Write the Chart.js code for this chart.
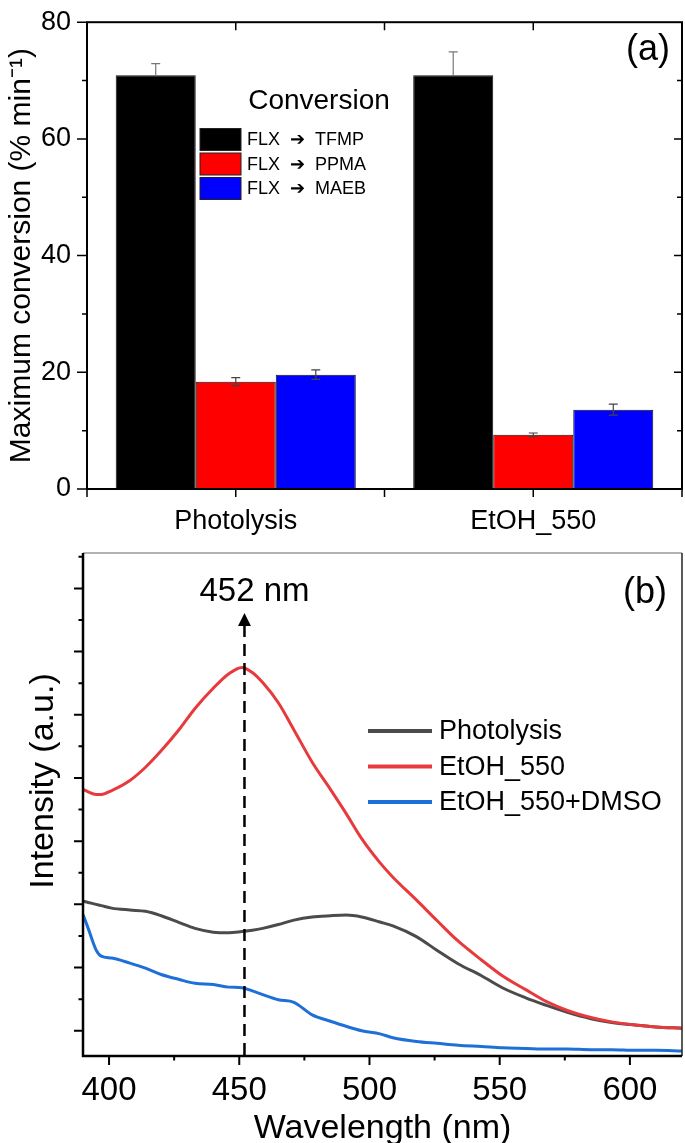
<!DOCTYPE html>
<html>
<head>
<meta charset="utf-8">
<script src="https://cdn.jsdelivr.net/npm/chart.js@4.4.0/dist/chart.umd.min.js"></script>
<style>
  html, body { margin: 0; padding: 0; background: #fff; overflow: hidden; }
  #wrapA { position: absolute; left: 0; top: 0; width: 685px; height: 545px; }
  #wrapB { position: absolute; left: 0; top: 545px; width: 685px; height: 620px; }
</style>
</head>
<body>
<div id="wrapA"><canvas id="chartA"></canvas></div>
<div id="wrapB"><canvas id="chartB"></canvas></div>
<script>
// panel (a) - maximum conversion
var samples = ["Photolysis", "EtOH_550"];
var tfmp = [70.9, 70.9];
var tfmpErr = [2.0, 4.0];
var ppma = [18.4, 9.3];
var ppmaErr = [0.7, 0.3];
var maeb = [19.6, 13.6];
var maebErr = [0.8, 0.95];

// panel (b) - emission spectra (a.u., x1000)
var wavelength = [390, 392, 395, 397, 401, 408, 414, 420, 427, 433, 440, 446, 451, 455, 459, 465, 471, 478,
    485, 491, 497, 504, 509, 518, 526, 534, 543, 551, 560, 568, 576, 585, 593, 602, 610, 620];
var photolysis = [2.05, 2.03, 2.00, 1.98, 1.94, 1.91, 1.89, 1.82, 1.71, 1.62, 1.56, 1.55, 1.57, 1.59, 1.62, 1.68, 1.75, 1.80,
    1.82, 1.83, 1.80, 1.72, 1.66, 1.49, 1.27, 1.06, 0.87, 0.68, 0.52, 0.40, 0.29, 0.19, 0.13, 0.09, 0.06, 0.04];
var etoh550 = [3.82, 3.78, 3.74, 3.74, 3.80, 3.96, 4.17, 4.43, 4.77, 5.10, 5.42, 5.65, 5.75, 5.67, 5.51, 5.19, 4.76, 4.25,
    3.82, 3.44, 3.04, 2.66, 2.43, 2.07, 1.74, 1.42, 1.12, 0.87, 0.65, 0.46, 0.32, 0.21, 0.14, 0.09, 0.06, 0.04];
var etohDmso = [1.84, 1.62, 1.28, 1.18, 1.15, 1.07, 0.99, 0.89, 0.81, 0.75, 0.73, 0.69, 0.68, 0.63, 0.57, 0.49, 0.45, 0.25,
    0.15, 0.07, 0.00, -0.05, -0.11, -0.17, -0.20, -0.23, -0.25, -0.27, -0.28, -0.29, -0.29, -0.30, -0.30, -0.31, -0.31, -0.32];
var wlTicks = [400, 450, 500, 550, 600];
var peakNm = 452;

var FONT = '"Liberation Sans", Arial, sans-serif';
Chart.defaults.font.family = FONT;
Chart.defaults.color = '#000';

function pts(ys) {
    return wavelength.map(function (w, i) { return { x: w, y: ys[i] }; });
}

// error bars on top of the bars
var errorBars = {
    id: 'errorBars',
    afterDatasetsDraw: function (chart) {
        var ctx = chart.ctx, y = chart.scales.y;
        ctx.save();
        ctx.lineWidth = 1.2;
        chart.data.datasets.forEach(function (ds, i) {
            ctx.strokeStyle = i === 0 ? '#777' : '#444';
            chart.getDatasetMeta(i).data.forEach(function (bar, j) {
                var top = y.getPixelForValue(ds.data[j] + ds.errors[j]);
                var bot = y.getPixelForValue(ds.data[j] - ds.errors[j]);
                if (i === 0) bot = y.getPixelForValue(ds.data[j]);
                ctx.beginPath();
                ctx.moveTo(bar.x, top); ctx.lineTo(bar.x, bot);
                ctx.moveTo(bar.x - 4.5, top); ctx.lineTo(bar.x + 4.5, top);
                if (i !== 0) { ctx.moveTo(bar.x - 4.5, bot); ctx.lineTo(bar.x + 4.5, bot); }
                ctx.stroke();
            });
        });
        ctx.restore();
    }
};

var frameA = {
    id: 'frameA',
    afterDraw: function (chart) {
        var ctx = chart.ctx, a = chart.chartArea, y = chart.scales.y, x = chart.scales.x;
        ctx.save();
        ctx.strokeStyle = '#000';
        ctx.lineWidth = 2;
        ctx.strokeRect(a.left, a.top, a.right - a.left, a.bottom - a.top);
        ctx.lineWidth = 1.5;
        ctx.beginPath();
        for (var v = 0; v <= 80; v += 10) {
            var py = y.getPixelForValue(v);
            var major = v % 20 === 0;
            ctx.moveTo(a.left - (major ? 10 : 5), py); ctx.lineTo(a.left, py);
            if (v > 0 && v < 80) {
                ctx.moveTo(a.right, py); ctx.lineTo(a.right - (major ? 8 : 5), py);
            }
        }
        var c0 = x.getPixelForValue(0), c1 = x.getPixelForValue(1);
        [c0, (c0 + c1) / 2, c1].forEach(function (px) {
            ctx.moveTo(px, a.top); ctx.lineTo(px, a.top + 8);
        });
        [a.left, c0, (c0 + c1) / 2, c1, a.right].forEach(function (px) {
            ctx.moveTo(px, a.bottom); ctx.lineTo(px, a.bottom + 8);
        });
        ctx.stroke();

        // legend
        ctx.fillStyle = '#000';
        ctx.font = '28px ' + FONT;
        ctx.textAlign = 'center';
        ctx.textBaseline = 'middle';
        ctx.fillText('Conversion', 319, 101);
        ctx.font = '18px ' + FONT;
        ctx.textAlign = 'left';
        chart.data.datasets.forEach(function (ds, i) {
            var top = 128.5 + i * 24.5;
            ctx.fillStyle = ds.backgroundColor;
            ctx.fillRect(200, top, 41, 22);
            ctx.strokeStyle = '#222';
            ctx.lineWidth = 1;
            ctx.strokeRect(200, top, 41, 22);
            ctx.fillStyle = '#000';
            ctx.fillText(ds.label, 247, top + 12);
        });

        ctx.font = '36px ' + FONT;
        ctx.textAlign = 'center';
        ctx.fillText('(a)', 648, 50);
        ctx.restore();
    }
};

new Chart(document.getElementById('chartA'), {
    type: 'bar',
    data: {
        labels: samples,
        datasets: [
            { label: 'FLX  \u2794  TFMP', data: tfmp, errors: tfmpErr, backgroundColor: '#000000', borderColor: '#111', borderWidth: 1 },
            { label: 'FLX  \u2794  PPMA', data: ppma, errors: ppmaErr, backgroundColor: '#ff0000', borderColor: '#111', borderWidth: 1 },
            { label: 'FLX  \u2794  MAEB', data: maeb, errors: maebErr, backgroundColor: '#0000ff', borderColor: '#111', borderWidth: 1 }
        ]
    },
    options: {
        responsive: true,
        maintainAspectRatio: false,
        animation: false,
        layout: { padding: { top: 14, right: 3, left: 0, bottom: 0 } },
        plugins: { legend: { display: false }, tooltip: { enabled: false } },
        datasets: { bar: { categoryPercentage: 0.807, barPercentage: 1.0 } },
        scales: {
            x: {
                grid: { display: false, tickLength: 8 },
                border: { display: false },
                ticks: { font: { size: 27 }, color: '#000', padding: 8, maxRotation: 0 },
                afterFit: function (s) { s.height = 56; }
            },
            y: {
                min: 0,
                max: 80,
                grid: { display: false, tickLength: 10 },
                border: { display: false },
                ticks: { stepSize: 20, font: { size: 27 }, color: '#000', padding: 6 },
                title: {
                    display: true,
                    text: 'Maximum conversion (% min\u207B\u00B9)',
                    font: { size: 30 },
                    color: '#000',
                    padding: { top: 4, bottom: 0 }
                },
                afterFit: function (s) { s.width = 87; }
            }
        }
    },
    plugins: [errorBars, frameA]
});

var frameB = {
    id: 'frameB',
    afterDatasetsDraw: function (chart) {
        var ctx = chart.ctx, a = chart.chartArea, x = chart.scales.x, y = chart.scales.y;
        ctx.save();
        // marker for the peak
        var px = x.getPixelForValue(peakNm);
        ctx.strokeStyle = '#000';
        ctx.lineWidth = 2.5;
        ctx.setLineDash([12, 7]);
        ctx.beginPath();
        ctx.moveTo(px, 80); ctx.lineTo(px, a.bottom);
        ctx.stroke();
        ctx.setLineDash([]);
        ctx.fillStyle = '#000';
        ctx.beginPath();
        ctx.moveTo(px, 68); ctx.lineTo(px - 6.5, 81); ctx.lineTo(px + 6.5, 81);
        ctx.closePath();
        ctx.fill();
        ctx.font = '33px ' + FONT;
        ctx.textAlign = 'center';
        ctx.textBaseline = 'middle';
        ctx.fillText(peakNm + ' nm', px + 10, 47);

        // frame
        ctx.lineWidth = 1.5;
        ctx.strokeStyle = '#999';
        ctx.beginPath(); ctx.moveTo(a.left, a.top); ctx.lineTo(a.right, a.top); ctx.stroke();
        ctx.strokeStyle = '#222';
        ctx.beginPath(); ctx.moveTo(a.right, a.top); ctx.lineTo(a.right, a.bottom); ctx.stroke();
        ctx.strokeStyle = '#000';
        ctx.lineWidth = 2.5;
        ctx.beginPath();
        ctx.moveTo(a.left, a.top); ctx.lineTo(a.left, a.bottom); ctx.lineTo(a.right, a.bottom);
        ctx.stroke();
        ctx.lineWidth = 2;
        ctx.beginPath();
        for (var v = 0; v <= 7.5; v += 0.5) {
            var py = y.getPixelForValue(v);
            ctx.moveTo(a.left - (v % 1 === 0 ? 9 : 4.5), py); ctx.lineTo(a.left, py);
        }
        for (var w = 400; w <= 600; w += 25) {
            var qx = x.getPixelForValue(w);
            ctx.moveTo(qx, a.bottom); ctx.lineTo(qx, a.bottom + (w % 50 === 0 ? 9 : 4.5));
        }
        ctx.stroke();

        // legend
        ctx.font = '27px ' + FONT;
        ctx.textAlign = 'left';
        chart.data.datasets.forEach(function (ds, i) {
            var ly = 186 + i * 35.5;
            ctx.strokeStyle = ds.borderColor;
            ctx.lineWidth = 4;
            ctx.beginPath(); ctx.moveTo(368, ly); ctx.lineTo(432, ly); ctx.stroke();
            ctx.fillStyle = '#000';
            ctx.fillText(ds.label, 439, ly + 1);
        });

        ctx.font = '36px ' + FONT;
        ctx.textAlign = 'center';
        ctx.fillText('(b)', 645, 48);

        // y axis title
        ctx.translate(44, 236);
        ctx.rotate(-Math.PI / 2);
        ctx.font = '34px ' + FONT;
        ctx.fillText('Intensity (a.u.)', 0, 0);
        ctx.restore();
    }
};

new Chart(document.getElementById('chartB'), {
    type: 'line',
    data: {
        datasets: [
            { label: 'Photolysis', data: pts(photolysis), borderColor: '#4b4b4b', order: 1 },
            { label: 'EtOH_550', data: pts(etoh550), borderColor: '#e63a3d', order: 0 },
            { label: 'EtOH_550+DMSO', data: pts(etohDmso), borderColor: '#1f6fd8', order: 0 }
        ]
    },
    options: {
        responsive: true,
        maintainAspectRatio: false,
        animation: false,
        layout: { padding: { top: 8, right: 3, left: 0, bottom: 0 } },
        elements: {
            line: { borderWidth: 3, cubicInterpolationMode: 'monotone' },
            point: { radius: 0 }
        },
        plugins: { legend: { display: false }, tooltip: { enabled: false } },
        scales: {
            x: {
                type: 'linear',
                min: 390,
                max: 620,
                afterBuildTicks: function (s) { s.ticks = wlTicks.map(function (v) { return { value: v }; }); },
                grid: { display: false, tickLength: 9 },
                border: { display: false },
                ticks: { font: { size: 33 }, color: '#000', padding: 6, maxRotation: 0, autoSkip: false },
                title: {
                    display: true,
                    text: 'Wavelength (nm)',
                    font: { size: 34 },
                    color: '#000',
                    padding: { top: 0, bottom: 16 }
                },
                afterFit: function (s) { s.height = 109; }
            },
            y: {
                min: -0.4,
                max: 7.56,
                grid: { display: false },
                border: { display: false },
                ticks: { display: false },
                afterFit: function (s) { s.width = 83; }
            }
        }
    },
    plugins: [frameB]
});
</script>
</body>
</html>
